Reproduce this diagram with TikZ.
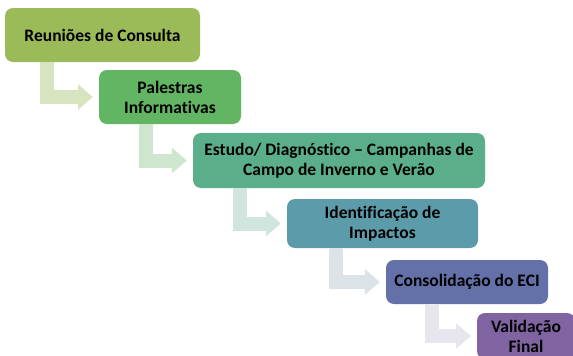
\documentclass[tikz,border=0pt]{standalone}
\usepackage{fontspec}
\setmainfont{Carlito}[Ligatures=NoCommon]
\usetikzlibrary{arrows.meta}
\definecolor{etapaA}{HTML}{9BBB59}
\definecolor{etapaB}{HTML}{62B562}
\definecolor{etapaC}{HTML}{5AAF8A}
\definecolor{etapaD}{HTML}{5C9CAA}
\definecolor{etapaE}{HTML}{6470A8}
\definecolor{etapaF}{HTML}{8064A2}
\definecolor{setaA}{HTML}{D8E4C0}
\definecolor{setaB}{HTML}{CFE6CE}
\definecolor{setaC}{HTML}{D0E5DD}
\definecolor{setaD}{HTML}{DCE3E8}
\definecolor{setaE}{HTML}{E7E6EF}
\begin{document}
\begin{tikzpicture}[x=1pt,y=-1pt,font=\fontsize{17.5}{20}\selectfont\bfseries,
	etapa/.style={rounded corners=8pt, text=black, align=center, inner sep=0pt},
	seta/.style={line width=14pt, -{Triangle[length=15pt,width=25pt]}}]
	\useasboundingbox (0,0) rectangle (573,356);
	% etapas
	\node[etapa, fill=etapaA, minimum width=195pt, minimum height=54pt] (reun) at (102.5,35) {Reuniões de Consulta};
	\node[etapa, fill=etapaB, minimum width=142pt, minimum height=54pt] (pal) at (170,97) {Palestras\\Informativas};
	\node[etapa, fill=etapaC, minimum width=292pt, minimum height=55pt] (est) at (339,160.5) {Estudo/ Diagnóstico – Campanhas de\\Campo de Inverno e Verão};
	\node[etapa, fill=etapaD, minimum width=191pt, minimum height=49pt] (ident) at (382.5,223.5) {Identificação de\\Impactos};
	\node[etapa, fill=etapaE, minimum width=162pt, minimum height=44pt] (cons) at (467,282) {Consolidação do ECI};
	\node[etapa, fill=etapaF, minimum width=98pt, minimum height=46pt] (valid) at (526,336) {Validação\\Final};
	% setas
	\draw[seta, setaA] ([xshift=42pt]reun.south west) |- ([xshift=-6pt]pal.west);
	\draw[seta, setaB] ([xshift=47pt]pal.south west) |- ([xshift=-6pt]est.west);
	\draw[seta, setaC] ([xshift=47pt]est.south west) |- ([xshift=-6pt]ident.west);
	\draw[seta, setaD] ([xshift=49pt]ident.south west) |- ([xshift=-6pt]cons.west);
	\draw[seta, setaE] ([xshift=46pt]cons.south west) |- ([xshift=-6pt]valid.west);
\end{tikzpicture}
\end{document}
